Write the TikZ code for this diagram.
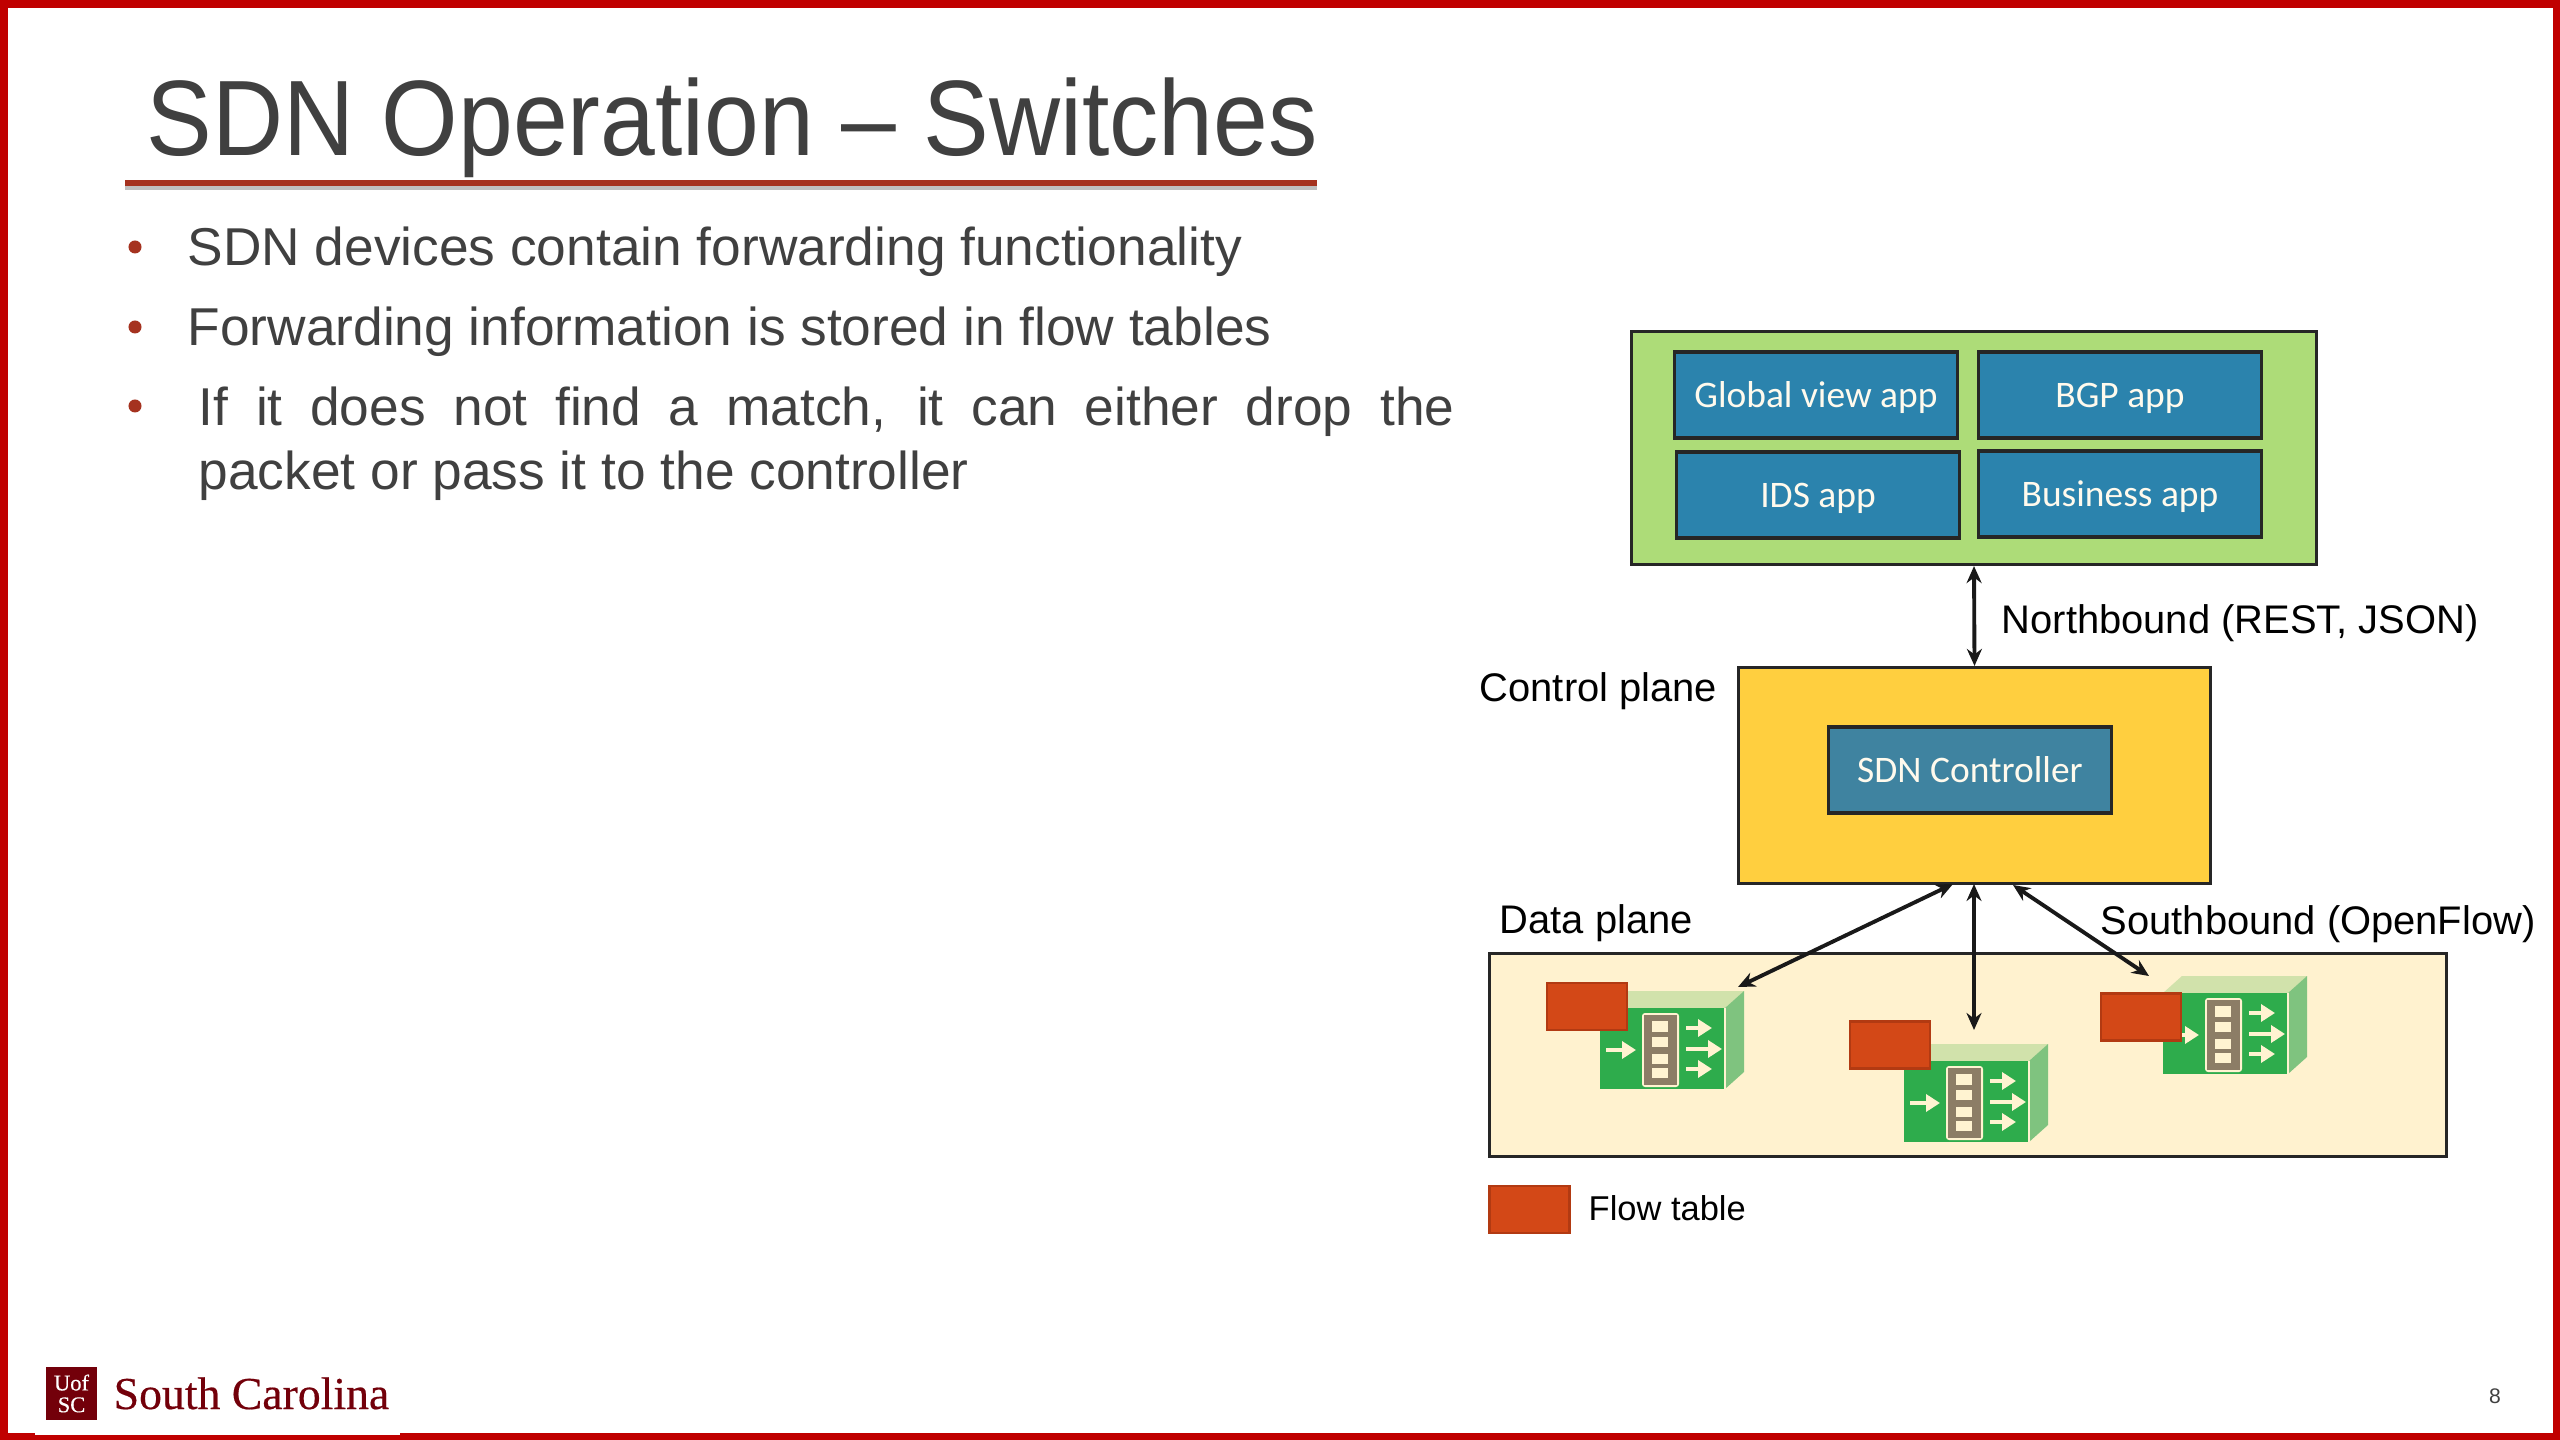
\documentclass[tikz,border=0pt]{standalone}
\usepackage{fontspec}
\setmainfont{Liberation Sans}
\newfontfamily\appfont{Carlito}
\newfontfamily\logofont[FakeBold=0.4]{Liberation Serif}
\usepackage{xcolor}
\usetikzlibrary{arrows.meta}

\definecolor{frameRed}{HTML}{C00000}
\definecolor{titleGray}{HTML}{404040}
\definecolor{ruleRed}{HTML}{A5321F}
\definecolor{garnet}{HTML}{73000A}
\definecolor{appBlue}{HTML}{2B83AD}
\definecolor{ctrlBlue}{HTML}{3F83A0}
\definecolor{appGreen}{HTML}{ADDC78}
\definecolor{ctrlYellow}{HTML}{FFCF3F}
\definecolor{dataCream}{HTML}{FFF2CF}
\definecolor{flowOrange}{HTML}{D34817}
\definecolor{flowEdge}{HTML}{B23A12}
\definecolor{swFront}{HTML}{2EAC4C}
\definecolor{swTop}{HTML}{D1E2AB}
\definecolor{swSide}{HTML}{7FC37F}
\definecolor{swStrip}{HTML}{8C7D66}
\definecolor{swPale}{HTML}{FFF3D1}

\tikzset{
  planebox/.style={draw=black!85, line width=0.85pt, inner sep=0pt},
  appbox/.style={draw=black!85, line width=0.95pt, fill=appBlue, text=swPale!40!white, inner sep=0pt,
    minimum width=2.83cm, minimum height=0.86cm, text height=0.33cm, text depth=0.08cm,
    font=\appfont\fontsize{10.65}{13}\selectfont},
  flowbox/.style={draw=flowEdge, line width=0.7pt, fill=flowOrange, inner sep=0pt,
    minimum width=0.80cm, minimum height=0.47cm},
  biarrow/.style={{Stealth[length=0.17cm,width=0.15cm]}-{Stealth[length=0.17cm,width=0.15cm]}, line width=1.1pt, black!90},
  planelabel/.style={anchor=base west, inner sep=0pt, font=\fontsize{11.35}{13}\selectfont},
  bulletdot/.style={circle, fill=ruleRed, inner sep=0pt, minimum size=0.13cm},
  bodytext/.style={anchor=base west, inner sep=0pt, text=titleGray, font=\fontsize{15.15}{17.9}\selectfont},
  swarrow/.style={-{Triangle[length=0.14cm,width=0.17cm]}, swPale, line width=1pt},
  pics/switchbox/.style={code={
    \fill[swTop] (0,-81) -- (19,-98) -- (144,-98) -- (125,-81) -- cycle;
    \fill[swSide] (125,-81) -- (144,-98) -- (144,-17) -- (125,0) -- cycle;
    \fill[swFront] (0,-81) rectangle (125,0);
    \draw[swPale, line width=0.3pt] (125,-81) -- (125,0);
    \fill[swPale, rounded corners=0.03cm] (42,-76) rectangle (79,-2);
    \fill[swStrip] (44,-74) rectangle (77,-4);
    \fill[swPale] (52,-68) rectangle (68,-57);
    \fill[swPale] (52,-52) rectangle (68,-42);
    \fill[swPale] (52,-35) rectangle (68,-25);
    \fill[swPale] (52,-21) rectangle (68,-11);
    \draw[swarrow] (6,-39) -- (36,-39);
    \draw[swarrow] (86,-61) -- (112,-61);
    \draw[swarrow] (86,-40) -- (122,-40);
    \draw[swarrow] (86,-20) -- (112,-20);
  }}
}

\begin{document}
\begin{tikzpicture}[x=0.01cm, y=-0.01cm]
  \useasboundingbox (0,0) rectangle (2560,1440);
  \fill[white] (0,0) rectangle (2560,1440);

  % slide frame
  \fill[frameRed] (0,0) rectangle (2560,8);
  \fill[frameRed] (0,0) rectangle (8,1440);
  \fill[frameRed] (2553,0) rectangle (2560,1440);
  \fill[frameRed] (0,1433) rectangle (2560,1440);
  \fill[white] (35,1433) rectangle (400,1435);

  % title and bullets
  \node[anchor=base west, inner sep=0pt, text=titleGray, font=\fontsize{30.5}{36}\selectfont] (title) at (146,156) {\scalebox{0.918}[1]{SDN Operation -- Switches}};
  \fill[black!25] (125,185) rectangle (1317,190);
  \fill[ruleRed] (125,180) rectangle (1317,186);

  \node[bulletdot] (dotA) at (135,247) {};
  \node[bulletdot] (dotB) at (135,327) {};
  \node[bulletdot] (dotC) at (135,406) {};
  \node[bodytext] (lineA) at (187,266) {SDN devices contain forwarding functionality};
  \node[bodytext] (lineB) at (187,346) {Forwarding information is stored in flow tables};
  \node[bodytext] (lineC) at (198,426) {\makebox[12.55cm][s]{If it does not find a match, it can either drop the}};
  \node[bodytext] (lineD) at (198,490) {packet or pass it to the controller};

  % application plane
  \node[planebox, fill=appGreen, minimum width=6.84cm, minimum height=2.33cm] (apps) at (1974,448) {};
  \node[appbox] (globalApp) at (1816,395) {Global view app};
  \node[appbox] (bgpApp) at (2120,395) {BGP app};
  \node[appbox] (idsApp) at (1818,495) {IDS app};
  \node[appbox] (busApp) at (2120,494) {Business app};

  % control plane
  \node[planebox, fill=ctrlYellow, minimum width=4.72cm, minimum height=2.16cm] (ctrl) at (1974.5,775.5) {};
  \node[appbox, fill=ctrlBlue] (sdnCtrl) at (1970,770) {SDN Controller};
  \node[planelabel] (ctrlLabel) at (1479,702) {Control plane};
  \node[planelabel] (northLabel) at (2001,634) {Northbound (REST, JSON)};

  % data plane
  \node[planebox, fill=dataCream, minimum width=9.56cm, minimum height=2.02cm] (data) at (1968,1055) {};
  \node[planelabel] (dataLabel) at (1499,933) {Data plane};
  \node[planelabel] (southLabel) at (2100,935) {Southbound (OpenFlow)};

  \pic at (1600,1089) {switchbox};
  \pic at (1904,1142) {switchbox};
  \pic at (2163,1074) {switchbox};
  \node[flowbox] (flowA) at (1587,1006.5) {};
  \node[flowbox] (flowB) at (1890,1045) {};
  \node[flowbox] (flowC) at (2141,1017) {};

  % connectors
  \coordinate (southA) at (1738,987);
  \coordinate (southB) at (1974,1030);
  \coordinate (southC) at (2149,976);
  \coordinate (ctrlA) at (1953,884);
  \coordinate (ctrlB) at (1974,884);
  \coordinate (ctrlC) at (2013,885);
  \draw[biarrow] (apps.south) -- (ctrl.north);
  \draw[biarrow] (ctrlA) -- (southA);
  \draw[biarrow] (ctrlB) -- (southB);
  \draw[biarrow] (ctrlC) -- (southC);

  % legend
  \node[flowbox] (legendBox) at (1529.5,1209.5) {};
  \node[anchor=base west, inner sep=0pt, font=\fontsize{9.8}{11}\selectfont] (legendText) at (1588,1220) {Flow table};

  % footer
  \node[fill=garnet, text=white, inner sep=0pt, minimum width=0.51cm, minimum height=0.53cm, align=center, font=\logofont\fontsize{6.4}{6.2}\selectfont] (logoBox) at (71.5,1393.5) {Uof\\SC};
  \node[anchor=base west, inner sep=0pt, text=garnet, font=\logofont\fontsize{13}{14}\selectfont] (logoText) at (113,1409) {South Carolina};
  \node[text=titleGray, inner sep=0pt, font=\fontsize{6}{7}\selectfont] (pageNum) at (2495,1396) {8};
\end{tikzpicture}
\end{document}
